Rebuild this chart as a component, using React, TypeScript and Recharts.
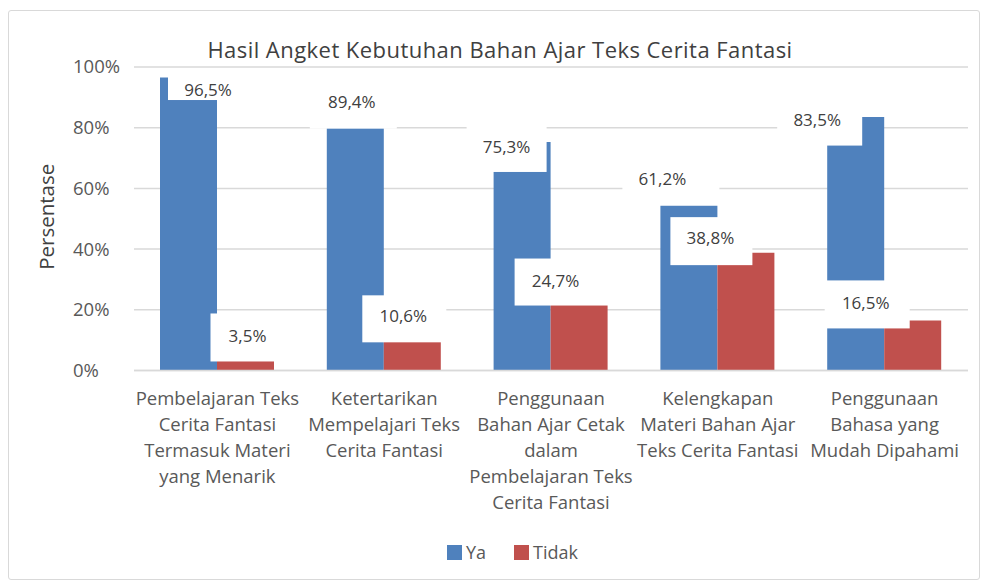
import { BarChart, Bar, XAxis, YAxis, CartesianGrid, Legend, LabelList } from 'recharts';

const categories = [
  'Pembelajaran Teks Cerita Fantasi Termasuk Materi yang Menarik',
  'Ketertarikan Mempelajari Teks Cerita Fantasi',
  'Penggunaan Bahan Ajar Cetak dalam Pembelajaran Teks Cerita Fantasi',
  'Kelengkapan Materi Bahan Ajar Teks Cerita Fantasi',
  'Penggunaan Bahasa yang Mudah Dipahami',
];
const tickLines = [
  ['Pembelajaran Teks', 'Cerita Fantasi', 'Termasuk Materi', 'yang Menarik'],
  ['Ketertarikan', 'Mempelajari Teks', 'Cerita Fantasi'],
  ['Penggunaan', 'Bahan Ajar Cetak', 'dalam', 'Pembelajaran Teks', 'Cerita Fantasi'],
  ['Kelengkapan', 'Materi Bahan Ajar', 'Teks Cerita Fantasi'],
  ['Penggunaan', 'Bahasa yang', 'Mudah Dipahami'],
];
const yaValues = [96.5, 89.4, 75.3, 61.2, 83.5];
const tidakValues = [3.5, 10.6, 24.7, 38.8, 16.5];
const yTicks = [0, 20, 40, 60, 80, 100];

const data = categories.map((name, i) => ({ name, ya: yaValues[i], tidak: tidakValues[i] }));

// label placement in the original: text offset from bar top centre, then white box extents around the text
// [dx, dy, left, right, top, bottom]
const yaLabelLayout = [
  [19.5, 12.4, 40, 42, 20, 10],
  [-3.5, 2.5, 42, 45, 22, 27],
  [-15.5, 5, 40, 40, 23, 25],
  [-26.5, -6, 40, 57, 23, 27],
  [-38.5, 2.5, 40, 45, 21, 26],
];
const tidakLabelLayout = [
  [2, -23.4, 37, 37, 23, 25],
  [-9, -22, 41, 43, 21, 26],
  [-23.5, -14, 41, 53, 23, 24],
  [-35.5, -14.6, 40, 42, 21, 27],
  [-47, -17, 41, 44, 23, 25],
];

const FONT = '"Open Sans", sans-serif';
const BLUE = '#4F81BD';
const RED = '#C0504D';
const TEXT = '#595959';

const fmt = (v: number) => v.toFixed(1).replace('.', ',') + '%';

const boxLabel = (layout: number[][]) => (props: any) => {
  const { x, y, width, index, value } = props;
  const [dx, dy, l, r, t, b] = layout[index];
  const cx = x + width / 2 + dx;
  const cy = y + dy;
  return (
    <g>
      <rect x={cx - l} y={cy - t} width={l + r} height={t + b} fill="#fff" />
      <text x={cx} y={cy} dy="0.35em" textAnchor="middle" fontFamily={FONT} fontSize={17} fill="#404040">
        {fmt(value)}
      </text>
    </g>
  );
};

const XTick = (props: any) => {
  const { x, y, index } = props;
  const lines = tickLines[index] || [];
  return (
    <text x={x} y={y} textAnchor="middle" fontFamily={FONT} fontSize={18.5} fill={TEXT}>
      {lines.map((line, i) => (
        <tspan key={i} x={x} dy={i === 0 ? 34 : 26}>{line}</tspan>
      ))}
    </text>
  );
};

const YTick = (props: any) => {
  const { y, payload } = props;
  return (
    <text x={73} y={y} dy="0.35em" textAnchor="start" fontFamily={FONT} fontSize={18.5} fill={TEXT}>
      {payload.value}%
    </text>
  );
};

const YLabel = (props: any) => {
  const vb = props.viewBox;
  const cy = vb.y + vb.height / 2 - 2;
  return (
    <text x={47} y={cy} transform={`rotate(-90, 47, ${cy})`} dy="0.35em" textAnchor="middle" fontFamily={FONT} fontSize={20.5} fill="#404040">
      Persentase
    </text>
  );
};

const legendItems = [
  { name: 'Ya', color: BLUE },
  { name: 'Tidak', color: RED },
];

const LegendContent = () => (
  <div style={{ display: 'flex', justifyContent: 'center', alignItems: 'center', paddingLeft: 44, height: 22, fontFamily: FONT, fontSize: 18, color: TEXT }}>
    {legendItems.map((it, i) => (
      <div key={it.name} style={{ display: 'flex', alignItems: 'center', marginLeft: i ? 28 : 0 }}>
        <span style={{ width: 15, height: 15, background: it.color, display: 'inline-block', marginRight: 4 }} />
        <span>{it.name}</span>
      </div>
    ))}
  </div>
);

export default function App() {
  return (
    <div style={{ position: 'absolute', left: 0, top: 0, width: 981, height: 583, background: '#fff' }}>
      <div style={{ position: 'absolute', left: 8, top: 10, width: 970, height: 568, border: '1px solid #d9d9d9', borderRadius: 3 }} />
      <div style={{ position: 'absolute', left: 0, top: 35, width: 1000, textAlign: 'center', fontFamily: FONT, fontSize: 22, letterSpacing: 0.45, lineHeight: '28px', color: '#404040' }}>
        Hasil Angket Kebutuhan Bahan Ajar Teks Cerita Fantasi
      </div>
      <div style={{ position: 'absolute', left: 0, top: 0 }}>
        <BarChart width={981} height={583} data={data} margin={{ top: 67, right: 13, left: 73, bottom: 20 }} barGap={0}>
          <CartesianGrid vertical={false} stroke="#d9d9d9" strokeWidth={1.5} />
          <XAxis dataKey="name" height={170.5} tickLine={false} tickSize={0} tickMargin={0} axisLine={{ stroke: '#d9d9d9', strokeWidth: 1.5 }} tick={<XTick />} interval={0} />
          <YAxis width={61} domain={[0, 100]} ticks={yTicks} axisLine={false} tickLine={false} tick={<YTick />} label={<YLabel />} />
          <Legend verticalAlign="bottom" wrapperStyle={{ left: 0, width: 981, height: 22 }} content={<LegendContent />} />
          <Bar dataKey="ya" name="Ya" fill={BLUE} barSize={57} isAnimationActive={false}>
            <LabelList dataKey="ya" content={boxLabel(yaLabelLayout)} />
          </Bar>
          <Bar dataKey="tidak" name="Tidak" fill={RED} barSize={57} isAnimationActive={false}>
            <LabelList dataKey="tidak" content={boxLabel(tidakLabelLayout)} />
          </Bar>
        </BarChart>
      </div>
    </div>
  );
}
